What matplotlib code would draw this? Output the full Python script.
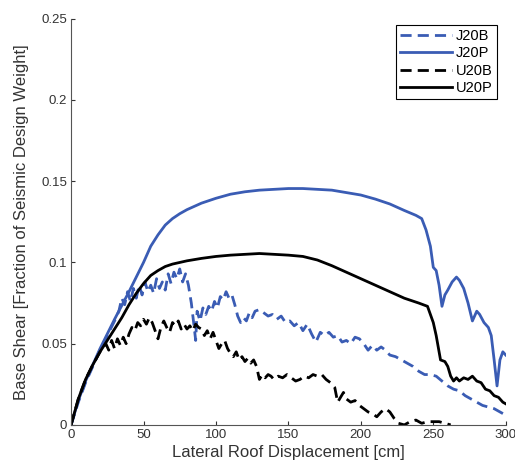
import numpy as np
import matplotlib.pyplot as plt

plt.rcParams['font.family'] = ['Liberation Sans', 'DejaVu Sans']

# -------------------------
# Data
# -------------------------

j20p_x = [0, 5, 10, 20, 30, 40, 50, 55, 60, 65, 70, 75, 80, 90, 100, 110, 120, 130,
          140, 150, 160, 170, 180, 190, 200, 210, 220, 230, 238, 242, 245, 248, 250,
          252, 254, 256, 258, 260, 263, 266, 268, 271, 274, 277, 280, 282, 285, 288,
          290, 292, 294, 296, 298, 300]
j20p_y = [0, 0.015, 0.027, 0.047, 0.065, 0.082, 0.100, 0.110, 0.117, 0.123, 0.127,
          0.130, 0.1325, 0.1365, 0.1395, 0.142, 0.1435, 0.1445, 0.145, 0.1455,
          0.1455, 0.145, 0.1445, 0.143, 0.1415, 0.139, 0.136, 0.132, 0.129, 0.127,
          0.120, 0.110, 0.097, 0.095, 0.086, 0.073, 0.080, 0.083, 0.088, 0.091,
          0.089, 0.084, 0.075, 0.064, 0.070, 0.068, 0.063, 0.060, 0.055, 0.040,
          0.024, 0.040, 0.045, 0.043]

u20p_x = [0, 5, 10, 15, 20, 25, 30, 35, 40, 45, 50, 55, 60, 65, 70, 80, 90, 100, 110,
          120, 130, 140, 150, 160, 170, 180, 190, 200, 210, 220, 230, 240, 246, 248,
          250, 252, 254, 255, 258, 260, 262, 264, 266, 268, 271, 274, 277, 280, 283,
          286, 289, 292, 295, 298, 300]
u20p_y = [0, 0.016, 0.028, 0.037, 0.045, 0.052, 0.059, 0.066, 0.074, 0.081, 0.087,
          0.092, 0.095, 0.0975, 0.099, 0.101, 0.1025, 0.1037, 0.1045, 0.105, 0.1055,
          0.105, 0.1045, 0.1037, 0.1015, 0.098, 0.094, 0.090, 0.086, 0.082, 0.078,
          0.075, 0.073, 0.068, 0.063, 0.055, 0.045, 0.040, 0.039, 0.036, 0.030,
          0.027, 0.029, 0.027, 0.029, 0.028, 0.030, 0.027, 0.026, 0.022, 0.021,
          0.018, 0.017, 0.014, 0.013]

j20b_x = [0, 5, 10, 15, 20, 25, 30, 33, 35, 37, 39, 41, 43, 45, 47, 49, 51, 53, 55,
          57, 59, 61, 63, 65, 67, 69, 71, 73, 75, 77, 79, 81, 83, 85, 86, 87, 89, 91,
          93, 95, 97, 99, 101, 103, 105, 107, 109, 111, 113, 115, 117, 119, 121, 123,
          125, 127, 130, 133, 136, 139, 142, 145, 148, 151, 154, 157, 160, 163, 166,
          169, 172, 175, 178, 181, 184, 187, 190, 193, 196, 199, 202, 205, 208, 211,
          214, 217, 220, 224, 228, 232, 236, 240, 244, 248, 252, 256, 260, 264, 268,
          272, 276, 280, 284, 288, 292, 296, 300]
j20b_y = [0, 0.014, 0.026, 0.036, 0.046, 0.055, 0.064, 0.070, 0.078, 0.074, 0.082,
          0.076, 0.084, 0.078, 0.086, 0.080, 0.088, 0.082, 0.086, 0.081, 0.090,
          0.084, 0.088, 0.083, 0.093, 0.087, 0.094, 0.090, 0.096, 0.088, 0.093,
          0.086, 0.075, 0.060, 0.052, 0.070, 0.064, 0.072, 0.068, 0.073, 0.070,
          0.076, 0.072, 0.079, 0.077, 0.082, 0.078, 0.080, 0.074, 0.067, 0.063,
          0.066, 0.064, 0.069, 0.066, 0.070, 0.071, 0.069, 0.067, 0.068, 0.065,
          0.067, 0.063, 0.064, 0.061, 0.063, 0.058, 0.062, 0.056, 0.051, 0.057,
          0.055, 0.057, 0.054, 0.055, 0.051, 0.052, 0.050, 0.054, 0.053, 0.050,
          0.046, 0.049, 0.046, 0.048, 0.046, 0.043, 0.042, 0.040, 0.038, 0.036,
          0.033, 0.031, 0.031, 0.030, 0.027, 0.024, 0.022, 0.021, 0.018, 0.016,
          0.014, 0.012, 0.011, 0.010, 0.008, 0.006]

u20b_x = [0, 5, 10, 15, 20, 24, 26, 28, 30, 32, 34, 36, 38, 40, 42, 44, 46, 48, 50,
          52, 54, 56, 58, 60, 62, 64, 66, 68, 70, 72, 74, 76, 78, 80, 82, 84, 86, 88,
          90, 92, 94, 96, 98, 100, 102, 104, 106, 108, 110, 112, 114, 116, 118, 120,
          122, 124, 126, 128, 130, 132, 134, 136, 138, 140, 143, 146, 149, 152, 155,
          158, 161, 164, 167, 170, 173, 176, 179, 182, 184, 186, 188, 190, 193, 196,
          199, 202, 205, 208, 211, 214, 217, 220, 223, 226, 230, 234, 238, 242, 246,
          250, 254, 258, 262]
u20b_y = [0, 0.016, 0.028, 0.037, 0.045, 0.050, 0.046, 0.052, 0.047, 0.053, 0.049,
          0.054, 0.050, 0.056, 0.060, 0.058, 0.063, 0.061, 0.065, 0.062, 0.066,
          0.063, 0.058, 0.053, 0.060, 0.064, 0.060, 0.057, 0.063, 0.061, 0.064,
          0.059, 0.062, 0.059, 0.061, 0.058, 0.062, 0.060, 0.059, 0.055, 0.058,
          0.053, 0.057, 0.052, 0.047, 0.050, 0.052, 0.047, 0.044, 0.042, 0.045,
          0.040, 0.042, 0.039, 0.041, 0.038, 0.040, 0.036, 0.028, 0.031, 0.029,
          0.031, 0.030, 0.028, 0.030, 0.029, 0.031, 0.029, 0.027, 0.028, 0.030,
          0.029, 0.031, 0.030, 0.031, 0.028, 0.026, 0.023, 0.014, 0.017, 0.020,
          0.016, 0.014, 0.015, 0.012, 0.010, 0.008, 0.007, 0.005, 0.008, 0.010,
          0.008, 0.004, 0.001, 0.000, 0.002, 0.003, 0.001, 0.002, 0.002, 0.002,
          0.001, 0.000]

x_ticks = [0, 50, 100, 150, 200, 250, 300]
y_ticks = [0, 0.05, 0.1, 0.15, 0.2, 0.25]
y_tick_labels = ['0', '0.05', '0.1', '0.15', '0.2', '0.25']

# -------------------------
# Figure
# -------------------------

blue = '#3a5cb4'
fig = plt.figure(figsize=(5.15, 4.69), dpi=100)
ax = fig.add_axes([0.138, 0.094, 0.844, 0.866])

dash = (4, 2.2)
ax.plot(j20b_x, j20b_y, color=blue, lw=2.0, ls=(0, dash), label='J20B')
ax.plot(j20p_x, j20p_y, color=blue, lw=2.0, label='J20P')
ax.plot(u20b_x, u20b_y, color='black', lw=2.0, ls=(0, dash), label='U20B')
ax.plot(u20p_x, u20p_y, color='black', lw=2.0, label='U20P')

ax.set_xlim(0, 300)
ax.set_ylim(0, 0.25)
ax.set_xticks(x_ticks)
ax.set_yticks(y_ticks)
ax.set_yticklabels(y_tick_labels)
ax.tick_params(direction='in', length=3, labelsize=9.5, colors='#333333', pad=3)
for s in ['top', 'right']:
    ax.spines[s].set_visible(False)
for s in ['left', 'bottom']:
    ax.spines[s].set_color('#555555')

ax.set_xlabel('Lateral Roof Displacement [cm]', fontsize=12, color='#333333', labelpad=3)
ax.set_ylabel('Base Shear [Fraction of Seismic Design Weight]', fontsize=12,
              color='#333333', labelpad=9)

leg = ax.legend(loc='upper right', bbox_to_anchor=(0.98, 0.985), fontsize=10.5,
                handlelength=3.5, fancybox=False, framealpha=1, borderpad=0.3,
                labelspacing=0.22, handletextpad=0.3, borderaxespad=0)
leg.get_frame().set_edgecolor('black')
leg.get_frame().set_linewidth(0.8)

fig.savefig('out.png', dpi=100)
